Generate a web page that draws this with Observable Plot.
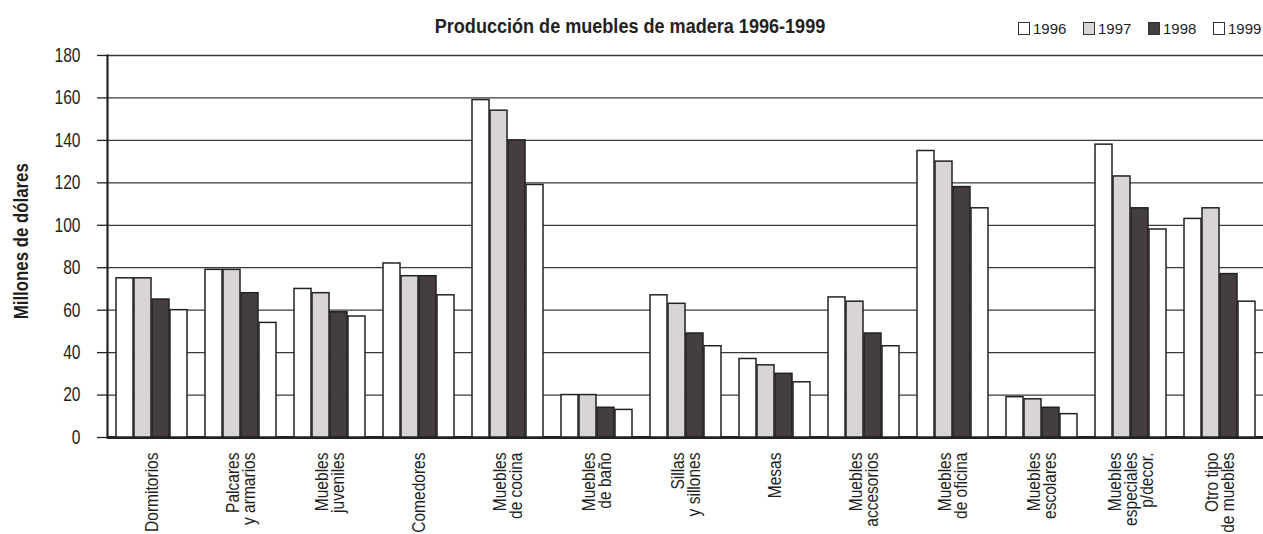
<!DOCTYPE html>
<html><head><meta charset="utf-8">
<script src="https://cdn.jsdelivr.net/npm/d3@7"></script>
<script src="https://cdn.jsdelivr.net/npm/@observablehq/plot@0.6"></script>
<style>
html,body{margin:0;padding:0;background:#fff;overflow:hidden}
#wrap{position:relative;width:1263px;height:534px;overflow:hidden;font-family:"Liberation Sans",Arial,sans-serif;color:#1e1e1e;background:#fff}
#bg,#fg{position:absolute;left:0;top:0}
#title{position:absolute;left:330px;width:600px;top:15px;text-align:center;font-weight:bold;font-size:21px;line-height:1;transform:scaleX(0.86);transform-origin:300px 50%;white-space:nowrap;color:#222}
#legend{position:absolute;left:1018px;top:21px;display:flex}
.item{display:flex;align-items:center;width:65px;font-size:15px;line-height:15px}
.sw{width:12px;height:13px;box-sizing:border-box;border:1.3px solid #333;margin-right:3px}
#ylabel{position:absolute;left:-79px;top:231px;width:200px;text-align:center;font-weight:bold;font-size:20.5px;line-height:1;transform:rotate(-90deg) scaleX(0.82);white-space:nowrap}
</style></head>
<body>
<div id="wrap">
  <div id="bg"></div>
  <div id="fg"></div>
  <div id="title">Producción de muebles de madera 1996-1999</div>
  <div id="legend"></div>
  <div id="ylabel">Millones de dólares</div>
</div>
<script>
const categories = ["Dormitorios", "Palcares\ny armarios", "Muebles\njuveniles", "Comedores", "Muebles\nde cocina", "Muebles\nde baño", "Sillas\ny sillones", "Mesas", "Muebles\naccesorios", "Muebles\nde oficina", "Muebles\nescolares", "Muebles\nespeciales\np/decor.", "Otro tipo\nde muebles"];
const years = ["1996", "1997", "1998", "1999"];
const v1996 = [75, 79, 70, 82, 159, 20, 67, 37, 66, 135, 19, 138, 103];
const v1997 = [75, 79, 68, 76, 154, 20, 63, 34, 64, 130, 18, 123, 108];
const v1998 = [65, 68, 59, 76, 140, 14, 49, 30, 49, 118, 14, 108, 77];
const v1999 = [60, 54, 57, 67, 119, 13, 43, 26, 43, 108, 11, 98, 64];
const yTicks = [0, 20, 40, 60, 80, 100, 120, 140, 160, 180];
const fills = ["#ffffff", "#d9d5d6", "#443e3e", "#ffffff"];

const series = [v1996, v1997, v1998, v1999];
const data = categories.flatMap((c, i) => years.map((y, j) => ({category: c, year: y, value: series[j][i]})));

const W = 1263, H = 600, Y0 = 437, YTOP = 55;
const font = '"Liberation Sans", Arial, sans-serif';
const style = {fontFamily: font, background: "transparent", color: "#1e1e1e"};

// condense text (narrow typeface look) along its reading direction
function condense(svg, k) {
  svg.querySelectorAll("text").forEach(t => {
    const tr = t.getAttribute("transform") || "";
    t.setAttribute("transform", (tr + ` scale(${k},1)`).trim());
  });
}

const bg = Plot.plot({
  width: W, height: H, marginTop: YTOP, marginBottom: H - Y0, marginLeft: 107, marginRight: 0,
  style,
  y: {domain: [0, 180]},
  marks: [
    Plot.gridY(yTicks, {stroke: "#3a3a3a", strokeOpacity: 1, strokeWidth: 1.3}),
    Plot.axisY(yTicks, {tickSize: 10, tickPadding: 17, fontSize: 20, label: null, stroke: "#222", strokeWidth: 1.3}),
    Plot.frame({anchor: "left", stroke: "#222", strokeWidth: 2.2}),
    Plot.ruleY([0], {stroke: "#222", strokeWidth: 3})
  ]
});
bg.style.background = "transparent";
condense(bg, 0.78);
document.getElementById("bg").append(bg);

const fg = Plot.plot({
  width: W, height: H, marginTop: YTOP, marginBottom: H - Y0, marginLeft: 112, marginRight: 2,
  style,
  fx: {domain: categories, paddingInner: 0.19, paddingOuter: 0},
  x: {domain: years, axis: null, paddingInner: 0.04, paddingOuter: 0},
  y: {domain: [0, 180], axis: null},
  color: {domain: years, range: fills},
  marks: [
    Plot.barY(data, {fx: "category", x: "year", y: "value", fill: "year", stroke: "#222", strokeWidth: 1.5}),
    Plot.axisFx({anchor: "bottom", tickSize: 0, tickPadding: 15, tickRotate: -90, textAnchor: "end", lineAnchor: "middle", lineHeight: 0.87, fontSize: 18.5, label: null})
  ]
});
fg.style.background = "transparent";
condense(fg, 0.84);
document.getElementById("fg").append(fg);

const legend = document.getElementById("legend");
years.forEach((y, j) => {
  const item = document.createElement("div");
  item.className = "item";
  const sw = document.createElement("span");
  sw.className = "sw";
  sw.style.background = fills[j];
  const lab = document.createElement("span");
  lab.textContent = y;
  item.append(sw, lab);
  legend.append(item);
});
</script>
</body></html>
